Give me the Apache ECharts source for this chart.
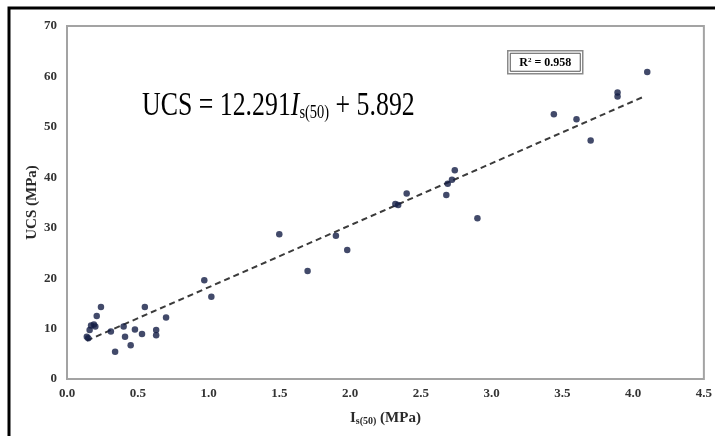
<!DOCTYPE html>
<html>
<head>
<meta charset="utf-8">
<script src="https://cdn.jsdelivr.net/npm/echarts@6/dist/echarts.min.js"></script>
<style>
  html, body { margin: 0; padding: 0; background: #fff; }
  #chart { width: 715px; height: 436px; }
</style>
</head>
<body>
<div id="chart"></div>
<script>
// Point load index Is(50) (MPa) and uniaxial compressive strength UCS (MPa)
const isValues = [0.14, 0.15, 0.16, 0.17, 0.19, 0.20, 0.21, 0.24, 0.31, 0.34,
  0.40, 0.41, 0.45, 0.48, 0.53, 0.55, 0.63, 0.63, 0.70, 0.97,
  1.02, 1.50, 1.70, 1.90, 1.98, 2.32, 2.34, 2.40, 2.68, 2.69,
  2.72, 2.74, 2.90, 3.44, 3.60, 3.70, 3.89, 3.89, 4.10];
const ucsValues = [8.4, 8.1, 9.7, 10.6, 10.8, 10.4, 12.5, 14.3, 9.4, 5.4,
  10.4, 8.4, 6.7, 9.8, 8.9, 14.3, 9.7, 8.7, 12.2, 19.6,
  16.3, 28.7, 21.4, 28.4, 25.6, 34.7, 34.5, 36.8, 36.5, 38.7,
  39.5, 41.4, 31.9, 52.5, 51.5, 47.3, 56.0, 56.8, 60.9];

// Linear fit UCS = slope * Is(50) + intercept, drawn over the data range
const fitSlope = 12.291;
const fitIntercept = 5.892;
const fitRange = [0.14, 4.08];
const rSquared = '0.958';

const xTicks = { min: 0, max: 4.5, interval: 0.5 };
const yTicks = { min: 0, max: 70, interval: 10 };

const points = isValues.map((x, i) => [x, ucsValues[i]]);
const fitLine = fitRange.map(x => [x, fitSlope * x + fitIntercept]);

const serif = '"Liberation Serif", "DejaVu Serif", serif';
const chart = echarts.init(document.getElementById('chart'), null, { renderer: 'canvas' });

chart.setOption({
  backgroundColor: '#ffffff',
  animation: false,
  grid: {
    left: 67, top: 26, right: 5, bottom: 57,
    show: true, borderColor: '#a3a3a3', borderWidth: 2, backgroundColor: 'transparent'
  },
  xAxis: {
    type: 'value',
    min: xTicks.min, max: xTicks.max, interval: xTicks.interval,
    axisLine: { show: false },
    axisTick: { show: false },
    splitLine: { show: false },
    axisLabel: {
      formatter: v => v.toFixed(1),
      fontFamily: serif, fontWeight: 'bold', fontSize: 13, color: '#333', margin: 8
    },
    name: '{b|I}{s|s(50)}{b| (MPa)}',
    nameLocation: 'middle',
    nameGap: 32,
    nameMoveOverlap: false,
    nameTextStyle: {
      rich: {
        b: { fontFamily: serif, fontWeight: 'bold', fontSize: 15, color: '#2a2a2a' },
        s: { fontFamily: serif, fontWeight: 'bold', fontSize: 10, color: '#2a2a2a', verticalAlign: 'bottom', padding: [4, 0, 0, 0] }
      }
    }
  },
  yAxis: {
    type: 'value',
    min: yTicks.min, max: yTicks.max, interval: yTicks.interval,
    axisLine: { show: false },
    axisTick: { show: false },
    splitLine: { show: false },
    axisLabel: {
      fontFamily: serif, fontWeight: 'bold', fontSize: 13, color: '#333', margin: 10
    },
    name: 'UCS (MPa)',
    nameLocation: 'middle',
    nameGap: 27,
    nameMoveOverlap: false,
    nameTextStyle: { fontFamily: serif, fontWeight: 'bold', fontSize: 15, color: '#2a2a2a' }
  },
  series: [
    {
      type: 'line',
      data: fitLine,
      symbol: 'none',
      silent: true,
      lineStyle: { color: '#3b3b3b', width: 2, type: [6, 4] },
      z: 2
    },
    {
      type: 'scatter',
      data: points,
      symbol: 'circle',
      symbolSize: 6.5,
      itemStyle: { color: '#131d45' },
      z: 3
    }
  ],
  graphic: [
    {
      // frame around the figure (runs past the right and bottom edges)
      type: 'rect',
      shape: { x: 9, y: 8, width: 720, height: 440 },
      style: { fill: 'none', stroke: '#000', lineWidth: 3 },
      silent: true
    },
    {
      type: 'text',
      left: 142, top: 89,
      scaleX: 0.76,
      style: {
        text: '{n|UCS = 12.291}{i|I}{s|s(50)}{n| + 5.892}',
        rich: {
          n: { fontFamily: serif, fontSize: 34, color: '#1a1a1a' },
          i: { fontFamily: serif, fontSize: 34, fontStyle: 'italic', color: '#1a1a1a' },
          s: { fontFamily: serif, fontSize: 19, color: '#1a1a1a', verticalAlign: 'bottom' }
        }
      }
    },
    {
      type: 'group',
      left: 507, top: 50,
      children: [
        {
          type: 'rect',
          shape: { x: 0, y: 0, width: 75, height: 23 },
          style: { fill: '#fff', stroke: '#8a8a8a', lineWidth: 1.5 }
        },
        {
          type: 'rect',
          shape: { x: 2.5, y: 2.5, width: 70, height: 18 },
          style: { fill: 'none', stroke: '#555', lineWidth: 1 }
        },
        {
          type: 'text',
          x: 37.5, y: 12,
          style: {
            text: '{t|R}{p|2}{t| = ' + rSquared + '}',
            align: 'center', verticalAlign: 'middle',
            rich: {
              t: { fontFamily: serif, fontWeight: 'bold', fontSize: 12, color: '#222' },
              p: { fontFamily: serif, fontWeight: 'bold', fontSize: 7, color: '#222', verticalAlign: 'top' }
            }
          }
        }
      ]
    }
  ]
});
</script>
</body>
</html>
